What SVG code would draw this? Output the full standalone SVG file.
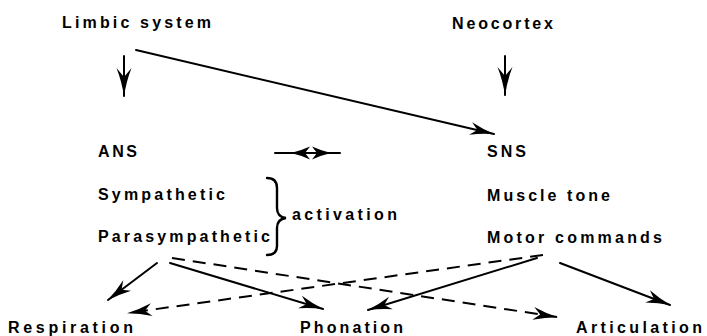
<svg xmlns="http://www.w3.org/2000/svg" width="707" height="336" viewBox="0 0 707 336">
<style>
  text { font-family: "Liberation Sans", Arial, sans-serif; font-weight: bold; font-size: 16px; fill: #000; }
  .ln { stroke: #000; stroke-width: 2; fill: none; stroke-linecap: round; }
  .dash { stroke-dasharray: 13 8; stroke-linecap: butt; }
  .ah { fill: #000; stroke: none; }
</style>
<defs>
  <marker id="arr" viewBox="-26 -8 28 16" refX="0" refY="0" markerWidth="28" markerHeight="16" markerUnits="userSpaceOnUse" orient="auto">
    <path class="ah" d="M1,0 Q-12,-2 -24,-6.5 L-17,0 L-24,6.5 Q-12,2 1,0 Z"/>
  </marker>
  <marker id="arrBig" viewBox="-30 -9 32 18" refX="0" refY="0" markerWidth="32" markerHeight="18" markerUnits="userSpaceOnUse" orient="auto">
    <path class="ah" d="M1,0 Q-14,-2 -28,-7.5 L-19,0 L-28,7.5 Q-14,2 1,0 Z"/>
  </marker>
</defs>

<g id="limbic"><text x="62" y="28" textLength="149" lengthAdjust="spacing">Limbic system</text></g>
<g id="neocortex"><text x="452" y="29" textLength="101" lengthAdjust="spacing">Neocortex</text></g>
<g id="ans"><text x="98" y="157" textLength="39" lengthAdjust="spacing">ANS</text></g>
<g id="sns"><text x="487" y="157" textLength="39" lengthAdjust="spacing">SNS</text></g>
<g id="sympathetic"><text x="98" y="200" textLength="127" lengthAdjust="spacing">Sympathetic</text></g>
<g id="parasympathetic"><text x="98" y="242" textLength="172" lengthAdjust="spacing">Parasympathetic</text></g>
<g id="activation">
  <path class="ln" style="stroke-width:2.4" d="M267,178 Q277,178 277,188 L277,208 Q277,217 286,218 Q277,219 277,228 L277,246 Q277,255 267,255"/>
  <text x="292" y="220" textLength="105" lengthAdjust="spacing">activation</text>
</g>
<g id="muscle-tone"><text x="487" y="201" textLength="123" lengthAdjust="spacing">Muscle tone</text></g>
<g id="motor-commands"><text x="487" y="243" textLength="175" lengthAdjust="spacing">Motor commands</text></g>
<g id="respiration"><text x="8" y="333" textLength="125" lengthAdjust="spacing">Respiration</text></g>
<g id="phonation"><text x="300" y="333" textLength="103" lengthAdjust="spacing">Phonation</text></g>
<g id="articulation"><text x="576" y="333" textLength="126" lengthAdjust="spacing">Articulation</text></g>

<g id="connectors">
  <line class="ln" x1="124" y1="56" x2="124" y2="96" marker-end="url(#arrBig)"/>
  <line class="ln" x1="505" y1="56" x2="505" y2="95" marker-end="url(#arrBig)"/>
  <line class="ln" x1="136" y1="50" x2="494" y2="134" marker-end="url(#arr)"/>
  <g id="ans-sns">
    <line class="ln" x1="275" y1="153" x2="340" y2="153"/>
    <path class="ah" d="M291,153 Q300,151 310,146.5 L305,153 L310,159.5 Q300,155 291,153 Z"/>
    <path class="ah" d="M331,153 Q322,151 312,146.5 L317,153 L312,159.5 Q322,155 331,153 Z"/>
  </g>
  <line class="ln" x1="157" y1="263" x2="108" y2="300" marker-end="url(#arr)"/>
  <line class="ln" x1="170" y1="263" x2="323" y2="309" marker-end="url(#arr)"/>
  <line class="ln dash" x1="172" y1="258" x2="557" y2="317" marker-end="url(#arr)"/>
  <line class="ln" x1="537" y1="258" x2="368" y2="310" marker-end="url(#arr)"/>
  <line class="ln" x1="560" y1="263" x2="670" y2="305" marker-end="url(#arr)"/>
  <line class="ln dash" x1="543" y1="255" x2="128" y2="313" marker-end="url(#arr)"/>
</g>
</svg>
